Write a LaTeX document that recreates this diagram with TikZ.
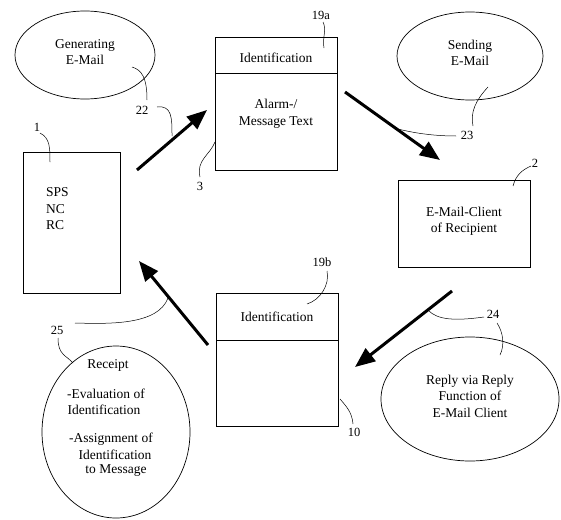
\documentclass[tikz,border=0pt]{standalone}
\usepackage{fontspec}
\setmainfont{Liberation Serif}
\usetikzlibrary{arrows.meta,shapes.geometric}
\begin{document}
\begin{tikzpicture}[x=1pt,y=-1pt,
  every node/.style={font=\fontsize{13.5}{16.5}\selectfont, inner sep=0pt, align=center},
  box/.style={draw, line width=0.8pt},
  bubble/.style={draw, ellipse, line width=0.7pt},
  flow/.style={line width=3pt, -{Triangle[length=20pt,width=16pt]}},
  lead/.style={line width=0.5pt},
  num/.style={font=\fontsize{12.5}{14}\selectfont}]
\useasboundingbox (0,0) rectangle (561,519);

% --- process boxes ---
\draw[box] (23,152) rectangle (120,293);
\node[align=left, anchor=west] (sps) at (46,209) {SPS\\NC\\RC};

\draw[box] (215,37) rectangle (337,170);
\draw[box] (215,73) -- (337,73);
\node (id1) at (276,58) {Identification};
\node (msg) at (276,114) {Alarm-/\\Message Text};

\draw[box] (398,180) rectangle (530,267);
\node (client) at (464,221) {E-Mail-Client\\of Recipient};

\draw[box] (216,293) rectangle (338,426);
\draw[box] (216,340) -- (338,340);
\node (id2) at (277,317) {Identification};

% --- activity bubbles ---
\node[bubble, minimum width=140pt, minimum height=88pt] (gen) at (85,55) {};
\node (gentxt) at (85,52) {Generating\\E-Mail};

\node[bubble, minimum width=146pt, minimum height=88pt] (send) at (470,56) {};
\node (sendtxt) at (470,53) {Sending\\E-Mail};

\node[bubble, minimum width=178pt, minimum height=124pt] (reply) at (470,399) {};
\node (replytxt) at (470,396) {Reply via Reply\\Function of\\E-Mail Client};

\node[bubble, minimum width=148pt, minimum height=172pt] (rcpt) at (116,432) {};
\node (r1) at (108,365) {Receipt};
\node (r2) at (106,394) {-Evaluation of};
\node (r3) at (104,410) {Identification};
\node (r4) at (111,439) {-Assignment of};
\node (r5) at (115,455) {Identification};
\node (r6) at (116,471) {to Message};

% --- flow arrows ---
\coordinate (a1s) at (137,170); \coordinate (a1e) at (207,110);
\coordinate (a2s) at (345,92);  \coordinate (a2e) at (440,160);
\coordinate (a3s) at (452,291); \coordinate (a3e) at (355,367);
\coordinate (a4s) at (208,345); \coordinate (a4e) at (139,261);
\draw[flow] (a1s) -- (a1e);
\draw[flow] (a2s) -- (a2e);
\draw[flow] (a3s) -- (a3e);
\draw[flow] (a4s) -- (a4e);

% --- reference numerals and their leaders ---
\node[num] (n1) at (37,127) {1};
\draw[lead] (40,133) .. controls (50,138) and (50,148) .. (50,162);

\node[num] (n22) at (142,110) {22};
\draw[lead] (132,67) .. controls (142,70) and (147,78) .. (147,100);
\draw[lead] (157,107) .. controls (172,105) and (172,118) .. (172,136);

\node[num] (n19a) at (321,15) {19a};
\draw[lead] (323,22) .. controls (327,30) and (322,38) .. (324,48);

\node[num] (n3) at (200,186) {3};
\draw[lead] (200,177) .. controls (196,160) and (210,155) .. (215,142);

\node[num] (n23) at (467,135) {23};
\draw[lead] (488,87) .. controls (476,100) and (470,112) .. (473,126);
\draw[lead] (456,136) .. controls (430,136) and (410,132) .. (398,129);

\node[num] (n2) at (535,163) {2};
\draw[lead] (531,166) .. controls (522,170) and (516,175) .. (513,186);

\node[num] (n19b) at (322,262) {19b};
\draw[lead] (327,271) .. controls (330,285) and (320,300) .. (307,304);

\node[num] (n10) at (354,432) {10};
\draw[lead] (340,399) .. controls (346,406) and (352,412) .. (353,424);

\node[num] (n24) at (493,314) {24};
\draw[lead] (484,317) .. controls (455,321) and (437,320) .. (428,310);
\draw[lead] (497,323) .. controls (503,332) and (505,345) .. (500,355);

\node[num] (n25) at (57,330) {25};
\draw[lead] (75,323) .. controls (110,324) and (158,325) .. (168,298);
\draw[lead] (58,338) .. controls (58,355) and (66,355) .. (73,363);
\end{tikzpicture}
\end{document}
